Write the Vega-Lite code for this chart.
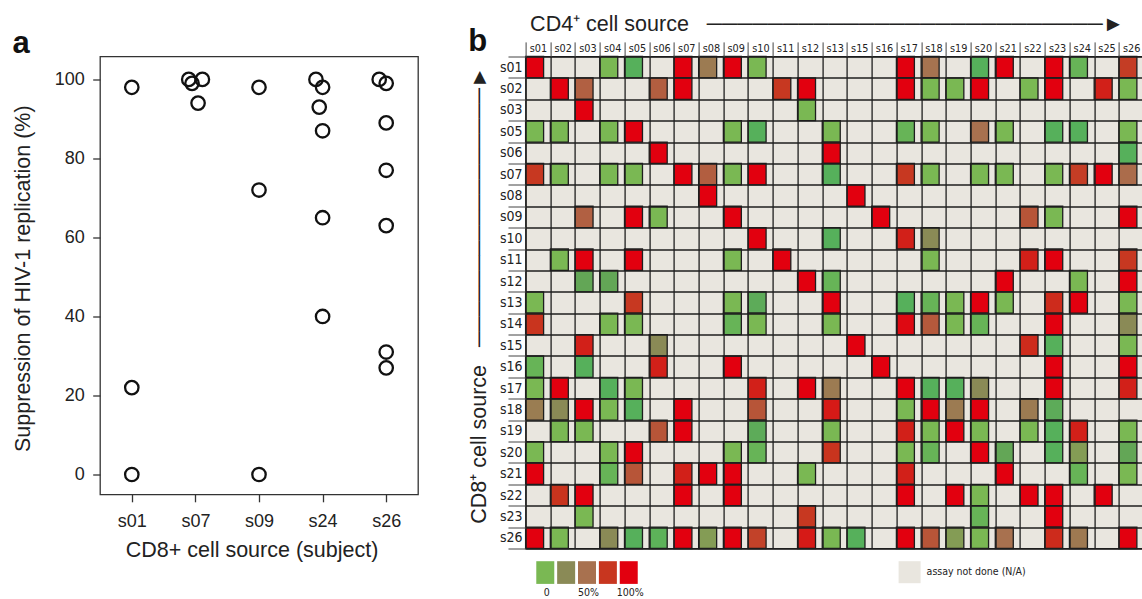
{
  "$schema": "https://vega.github.io/schema/vega-lite/v6.json",
  "background": "white",
  "padding": {"left": 11, "top": 12.5, "right": 0, "bottom": 0},
  "columns": 2,
  "bounds": "flush",
  "align": "each",
  "spacing": {"row": 12.7, "column": 107.6},
  "resolve": {"legend": {"fill": "independent"}},
  "config": {
    "view": {"stroke": null},
    "font": "Liberation Sans",
    "axis": {"labelFont": "Liberation Sans", "titleFont": "Liberation Sans", "titleFontWeight": "normal", "labelColor": "#222", "titleColor": "#222"}
  },
  "concat": [
    {
      "width": 318,
      "height": 438,
      "title": {"text": "a", "anchor": "start", "frame": "bounds", "fontSize": 31, "fontWeight": "bold", "font": "Liberation Sans", "baseline": "alphabetic", "offset": 2.6, "dy": 30.4, "color": "#111"},
      "view": {"stroke": "#333", "strokeWidth": 1.3},
      "data": {"values": [
        {"s": "s01", "y": 98, "j": 0}, {"s": "s01", "y": 22, "j": 0}, {"s": "s01", "y": 0, "j": 0},
        {"s": "s07", "y": 100, "j": -0.95}, {"s": "s07", "y": 99, "j": -0.48}, {"s": "s07", "y": 100, "j": 1}, {"s": "s07", "y": 94, "j": 0.38},
        {"s": "s09", "y": 98, "j": 0}, {"s": "s09", "y": 72, "j": 0}, {"s": "s09", "y": 0, "j": 0},
        {"s": "s24", "y": 100, "j": -0.95}, {"s": "s24", "y": 98, "j": 0}, {"s": "s24", "y": 93, "j": -0.48}, {"s": "s24", "y": 87, "j": 0}, {"s": "s24", "y": 65, "j": 0}, {"s": "s24", "y": 40, "j": 0},
        {"s": "s26", "y": 100, "j": -1}, {"s": "s26", "y": 99, "j": 0}, {"s": "s26", "y": 89, "j": 0}, {"s": "s26", "y": 77, "j": 0}, {"s": "s26", "y": 63, "j": 0}, {"s": "s26", "y": 31, "j": 0}, {"s": "s26", "y": 27, "j": 0}
      ]},
      "mark": {"type": "point", "shape": "circle", "filled": false, "stroke": "#111", "strokeWidth": 2.3, "size": 180, "opacity": 1},
      "encoding": {
        "x": {"field": "s", "type": "nominal", "scale": {"type": "point", "padding": 0.5},
          "axis": {"title": "CD8+ cell source (subject)", "labelAngle": 0, "domain": false, "grid": false, "tickSize": 7.3, "tickColor": "#333", "tickWidth": 1.3, "labelFontSize": 18, "labelPadding": 10.7, "titleFontSize": 21.5, "titleX": 151.5, "titleY": 62.2, "titleAlign": "center", "titleBaseline": "alphabetic"}},
        "xOffset": {"field": "j", "type": "quantitative", "scale": {"domain": [-1, 1], "range": [-7, 7]}},
        "y": {"field": "y", "type": "quantitative", "scale": {"domain": [-5.06, 105.8], "nice": false, "zero": false},
          "axis": {"title": "Suppression of HIV-1 replication (%)", "values": [0, 20, 40, 60, 80, 100], "domain": false, "grid": false, "tickSize": 7.3, "tickColor": "#333", "tickWidth": 1.3, "labelPadding": 8.4, "labelFontSize": 18, "titleFontSize": 21.5, "titleAngle": 270, "titleX": -70.5, "titleY": 221.7, "titleAlign": "center", "titleBaseline": "alphabetic"}}
      }
    },
    {
      "width": 618,
      "height": 492,
      "title": {"text": "b", "anchor": "start", "frame": "bounds", "fontSize": 31, "fontWeight": "bold", "font": "Liberation Sans", "baseline": "alphabetic", "offset": 0, "dy": 68.2, "color": "#111"},
      "view": {"fill": "#e9e6df", "stroke": "#1e1e1e", "strokeWidth": 1.3},
      "data": {"values": [
        {"r":"s01","c":"s01","v":100},{"r":"s01","c":"s04","v":0},{"r":"s01","c":"s05","v":-15},{"r":"s01","c":"s07","v":100},{"r":"s01","c":"s08","v":40},{"r":"s01","c":"s09","v":100},{"r":"s01","c":"s10","v":0},{"r":"s01","c":"s17","v":100},{"r":"s01","c":"s18","v":48},{"r":"s01","c":"s20","v":-15},{"r":"s01","c":"s21","v":100},{"r":"s01","c":"s23","v":100},{"r":"s01","c":"s24","v":-8},{"r":"s01","c":"s26","v":72},
        {"r":"s02","c":"s02","v":100},{"r":"s02","c":"s03","v":57},{"r":"s02","c":"s06","v":58},{"r":"s02","c":"s07","v":100},{"r":"s02","c":"s11","v":74},{"r":"s02","c":"s12","v":100},{"r":"s02","c":"s17","v":100},{"r":"s02","c":"s18","v":0},{"r":"s02","c":"s19","v":0},{"r":"s02","c":"s20","v":100},{"r":"s02","c":"s22","v":0},{"r":"s02","c":"s23","v":100},{"r":"s02","c":"s25","v":85},{"r":"s02","c":"s26","v":0},
        {"r":"s03","c":"s03","v":100},{"r":"s03","c":"s12","v":0},
        {"r":"s05","c":"s01","v":0},{"r":"s05","c":"s02","v":0},{"r":"s05","c":"s04","v":0},{"r":"s05","c":"s05","v":100},{"r":"s05","c":"s09","v":0},{"r":"s05","c":"s10","v":-15},{"r":"s05","c":"s13","v":0},{"r":"s05","c":"s17","v":-8},{"r":"s05","c":"s18","v":0},{"r":"s05","c":"s20","v":50},{"r":"s05","c":"s21","v":0},{"r":"s05","c":"s23","v":-15},{"r":"s05","c":"s24","v":-15},{"r":"s05","c":"s26","v":0},
        {"r":"s06","c":"s06","v":100},{"r":"s06","c":"s13","v":100},{"r":"s06","c":"s26","v":-15},
        {"r":"s07","c":"s01","v":74},{"r":"s07","c":"s02","v":0},{"r":"s07","c":"s04","v":0},{"r":"s07","c":"s05","v":0},{"r":"s07","c":"s07","v":100},{"r":"s07","c":"s08","v":58},{"r":"s07","c":"s09","v":0},{"r":"s07","c":"s10","v":100},{"r":"s07","c":"s13","v":-15},{"r":"s07","c":"s17","v":74},{"r":"s07","c":"s18","v":0},{"r":"s07","c":"s20","v":0},{"r":"s07","c":"s21","v":0},{"r":"s07","c":"s23","v":0},{"r":"s07","c":"s24","v":72},{"r":"s07","c":"s25","v":100},{"r":"s07","c":"s26","v":52},
        {"r":"s08","c":"s08","v":100},{"r":"s08","c":"s15","v":100},
        {"r":"s09","c":"s03","v":57},{"r":"s09","c":"s05","v":100},{"r":"s09","c":"s06","v":0},{"r":"s09","c":"s09","v":100},{"r":"s09","c":"s16","v":100},{"r":"s09","c":"s22","v":62},{"r":"s09","c":"s23","v":0},{"r":"s09","c":"s26","v":100},
        {"r":"s10","c":"s10","v":100},{"r":"s10","c":"s13","v":-15},{"r":"s10","c":"s17","v":85},{"r":"s10","c":"s18","v":25},
        {"r":"s11","c":"s02","v":0},{"r":"s11","c":"s03","v":100},{"r":"s11","c":"s05","v":100},{"r":"s11","c":"s09","v":0},{"r":"s11","c":"s11","v":100},{"r":"s11","c":"s18","v":0},{"r":"s11","c":"s22","v":85},{"r":"s11","c":"s23","v":100},{"r":"s11","c":"s26","v":74},
        {"r":"s12","c":"s03","v":-25},{"r":"s12","c":"s04","v":-25},{"r":"s12","c":"s12","v":100},{"r":"s12","c":"s13","v":-8},{"r":"s12","c":"s21","v":100},{"r":"s12","c":"s24","v":0},{"r":"s12","c":"s26","v":100},
        {"r":"s13","c":"s01","v":0},{"r":"s13","c":"s05","v":74},{"r":"s13","c":"s09","v":0},{"r":"s13","c":"s10","v":-20},{"r":"s13","c":"s13","v":100},{"r":"s13","c":"s17","v":-15},{"r":"s13","c":"s18","v":-8},{"r":"s13","c":"s19","v":0},{"r":"s13","c":"s20","v":100},{"r":"s13","c":"s21","v":0},{"r":"s13","c":"s23","v":80},{"r":"s13","c":"s24","v":100},{"r":"s13","c":"s26","v":0},
        {"r":"s14","c":"s01","v":76},{"r":"s14","c":"s04","v":0},{"r":"s14","c":"s05","v":0},{"r":"s14","c":"s09","v":-8},{"r":"s14","c":"s10","v":0},{"r":"s14","c":"s13","v":0},{"r":"s14","c":"s17","v":96},{"r":"s14","c":"s18","v":60},{"r":"s14","c":"s19","v":0},{"r":"s14","c":"s20","v":-8},{"r":"s14","c":"s23","v":100},{"r":"s14","c":"s26","v":25},
        {"r":"s15","c":"s03","v":85},{"r":"s15","c":"s06","v":25},{"r":"s15","c":"s15","v":100},{"r":"s15","c":"s22","v":80},{"r":"s15","c":"s23","v":-15},{"r":"s15","c":"s26","v":0},
        {"r":"s16","c":"s01","v":-8},{"r":"s16","c":"s03","v":-15},{"r":"s16","c":"s06","v":85},{"r":"s16","c":"s09","v":100},{"r":"s16","c":"s16","v":100},{"r":"s16","c":"s23","v":100},{"r":"s16","c":"s26","v":100},
        {"r":"s17","c":"s01","v":0},{"r":"s17","c":"s02","v":100},{"r":"s17","c":"s04","v":-15},{"r":"s17","c":"s05","v":0},{"r":"s17","c":"s10","v":85},{"r":"s17","c":"s12","v":100},{"r":"s17","c":"s13","v":40},{"r":"s17","c":"s17","v":100},{"r":"s17","c":"s18","v":-15},{"r":"s17","c":"s19","v":-15},{"r":"s17","c":"s20","v":25},{"r":"s17","c":"s23","v":100},{"r":"s17","c":"s26","v":85},
        {"r":"s18","c":"s01","v":38},{"r":"s18","c":"s02","v":25},{"r":"s18","c":"s03","v":100},{"r":"s18","c":"s04","v":0},{"r":"s18","c":"s05","v":-15},{"r":"s18","c":"s07","v":100},{"r":"s18","c":"s10","v":62},{"r":"s18","c":"s13","v":88},{"r":"s18","c":"s17","v":0},{"r":"s18","c":"s18","v":100},{"r":"s18","c":"s19","v":40},{"r":"s18","c":"s20","v":100},{"r":"s18","c":"s22","v":40},{"r":"s18","c":"s23","v":-20},
        {"r":"s19","c":"s02","v":0},{"r":"s19","c":"s03","v":0},{"r":"s19","c":"s06","v":62},{"r":"s19","c":"s07","v":100},{"r":"s19","c":"s10","v":-20},{"r":"s19","c":"s13","v":0},{"r":"s19","c":"s17","v":85},{"r":"s19","c":"s18","v":0},{"r":"s19","c":"s19","v":100},{"r":"s19","c":"s20","v":0},{"r":"s19","c":"s22","v":0},{"r":"s19","c":"s23","v":-15},{"r":"s19","c":"s24","v":85},{"r":"s19","c":"s26","v":0},
        {"r":"s20","c":"s01","v":0},{"r":"s20","c":"s04","v":0},{"r":"s20","c":"s05","v":100},{"r":"s20","c":"s09","v":0},{"r":"s20","c":"s10","v":-8},{"r":"s20","c":"s13","v":76},{"r":"s20","c":"s17","v":0},{"r":"s20","c":"s18","v":-8},{"r":"s20","c":"s20","v":100},{"r":"s20","c":"s21","v":-25},{"r":"s20","c":"s23","v":-15},{"r":"s20","c":"s24","v":15},{"r":"s20","c":"s26","v":-25},
        {"r":"s21","c":"s01","v":100},{"r":"s21","c":"s04","v":-8},{"r":"s21","c":"s05","v":62},{"r":"s21","c":"s07","v":85},{"r":"s21","c":"s08","v":100},{"r":"s21","c":"s09","v":100},{"r":"s21","c":"s12","v":0},{"r":"s21","c":"s17","v":85},{"r":"s21","c":"s21","v":100},{"r":"s21","c":"s24","v":-8},{"r":"s21","c":"s26","v":0},
        {"r":"s22","c":"s02","v":76},{"r":"s22","c":"s03","v":100},{"r":"s22","c":"s07","v":100},{"r":"s22","c":"s09","v":100},{"r":"s22","c":"s17","v":100},{"r":"s22","c":"s19","v":100},{"r":"s22","c":"s20","v":0},{"r":"s22","c":"s22","v":100},{"r":"s22","c":"s23","v":100},{"r":"s22","c":"s25","v":100},
        {"r":"s23","c":"s03","v":0},{"r":"s23","c":"s12","v":74},{"r":"s23","c":"s20","v":-8},{"r":"s23","c":"s23","v":100},
        {"r":"s26","c":"s01","v":100},{"r":"s26","c":"s02","v":0},{"r":"s26","c":"s04","v":25},{"r":"s26","c":"s05","v":-15},{"r":"s26","c":"s06","v":-12},{"r":"s26","c":"s07","v":100},{"r":"s26","c":"s08","v":15},{"r":"s26","c":"s09","v":100},{"r":"s26","c":"s10","v":70},{"r":"s26","c":"s12","v":88},{"r":"s26","c":"s13","v":0},{"r":"s26","c":"s15","v":-15},{"r":"s26","c":"s17","v":100},{"r":"s26","c":"s18","v":62},{"r":"s26","c":"s19","v":15},{"r":"s26","c":"s20","v":0},{"r":"s26","c":"s21","v":50},{"r":"s26","c":"s23","v":80},{"r":"s26","c":"s24","v":42},{"r":"s26","c":"s26","v":100}
      ]},
      "encoding": {
        "x": {"field": "c", "type": "ordinal",
          "scale": {"domain": ["s01","s02","s03","s04","s05","s06","s07","s08","s09","s10","s11","s12","s13","s15","s16","s17","s18","s19","s20","s21","s22","s23","s24","s25","s26"], "paddingInner": 0, "paddingOuter": 0},
          "axis": {"orient": "top", "title": "CD4⁺ cell source\u00a0\u00a0\u00a0──────────────────────────►", "tickBand": "extent", "grid": true, "gridColor": "#1e1e1e", "gridWidth": 1.3, "domain": false, "tickSize": 14.6, "tickColor": "#444", "tickWidth": 1, "labelPadding": -9.3, "labelBaseline": "alphabetic", "labelAngle": 0, "labelFont": "Liberation Sans Narrow, DejaVu Sans Condensed, sans-serif", "labelFontSize": 10.8, "labelOverlap": false, "titleFontSize": 21.5, "titleX": 4, "titleY": -26, "titleAlign": "left", "titleBaseline": "alphabetic", "titleAngle": 0}},
        "y": {"field": "r", "type": "ordinal",
          "scale": {"domain": ["s01","s02","s03","s05","s06","s07","s08","s09","s10","s11","s12","s13","s14","s15","s16","s17","s18","s19","s20","s21","s22","s23","s26"], "paddingInner": 0, "paddingOuter": 0},
          "axis": {"title": "CD8⁺ cell source\u00a0\u00a0\u00a0─────────────────►", "tickBand": "extent", "grid": true, "gridColor": "#1e1e1e", "gridWidth": 1.3, "domain": false, "tickSize": 17.6, "tickColor": "#444", "tickWidth": 1, "labelPadding": -14, "labelFont": "Liberation Sans Narrow, DejaVu Sans Condensed, sans-serif", "labelFontSize": 14, "labelOverlap": false, "titleFontSize": 21.5, "titleAngle": 270, "titleX": -40.3, "titleY": 466.7, "titleAlign": "left", "titleBaseline": "alphabetic"}}
      },
      "layer": [
        {
          "mark": {"type": "rect"},
          "encoding": {
            "fill": {"datum": "assay not done (N/A)", "type": "nominal",
              "scale": {"domain": ["assay not done (N/A)"], "range": ["#e9e6df"]},
              "legend": {"orient": "none", "legendX": 373, "legendY": 504.7, "title": null, "padding": 0, "symbolType": "square", "symbolSize": 484, "symbolStrokeWidth": 0, "labelFont": "Liberation Sans Narrow, DejaVu Sans Condensed, sans-serif", "labelFontSize": 10.5, "labelOffset": 6, "labelColor": "#222"}}
          }
        },
        {
          "mark": {"type": "rect", "stroke": "#1e1e1e", "strokeWidth": 1.3},
          "encoding": {
            "color": {"field": "v", "type": "quantitative",
              "scale": {"domain": [-25, -15, 0, 25, 50, 75, 100], "range": ["#63a656", "#56b05b", "#7ab853", "#8a8a56", "#a8714f", "#c8361f", "#e2000f"], "interpolate": "rgb"},
              "legend": null}
          }
        }
      ]
    },
    {
      "width": 1,
      "height": 1,
      "data": {"values": []},
      "mark": "point"
    },
    {
      "width": 115,
      "height": 22.7,
      "data": {"values": [{"v": 0}, {"v": 25}, {"v": 50}, {"v": 75}, {"v": 100}]},
      "mark": {"type": "rect"},
      "encoding": {
        "x": {"field": "v", "type": "ordinal", "scale": {"paddingInner": 0, "paddingOuter": 0.256, "align": 1},
          "axis": {"title": null, "domain": false, "ticks": false, "grid": false, "labelAngle": 0, "labelPadding": 3.3, "labelFont": "Liberation Sans Narrow, DejaVu Sans Condensed, sans-serif", "labelFontSize": 10.5, "labelExpr": "datum.value == 0 ? '0' : datum.value == 50 ? '50%' : datum.value == 100 ? '100%' : ''"}},
        "color": {"field": "v", "type": "quantitative",
          "scale": {"domain": [-25, -15, 0, 25, 50, 75, 100], "range": ["#63a656", "#56b05b", "#7ab853", "#8a8a56", "#a8714f", "#c8361f", "#e2000f"], "interpolate": "rgb"},
          "legend": null}
      }
    }
  ]
}
